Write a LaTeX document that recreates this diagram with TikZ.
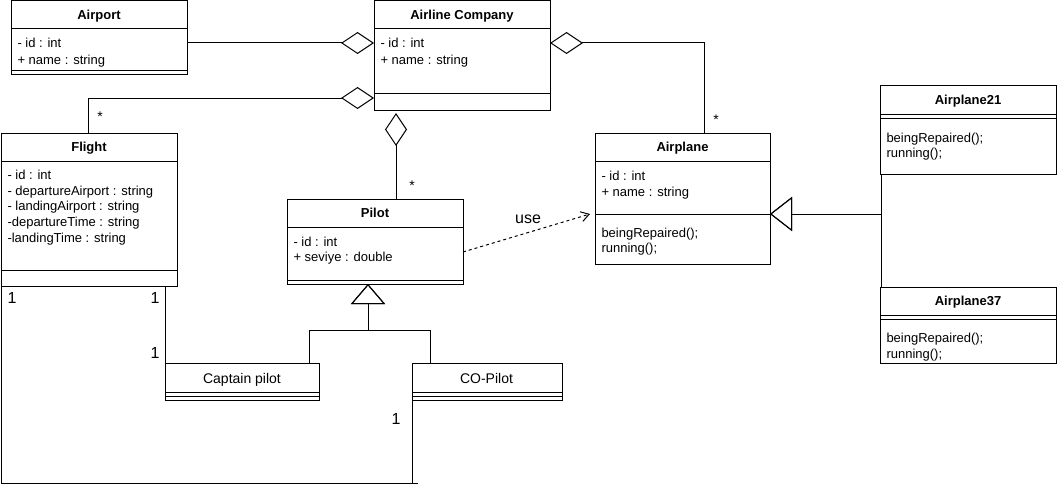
\documentclass[tikz,border=0pt]{standalone}
\usepackage{fontspec}
\setmainfont{Liberation Sans}
\usetikzlibrary{arrows.meta}
\begin{document}
\begin{tikzpicture}[x=1pt,y=-1pt,line width=1pt,
  cls/.style={draw, inner sep=0pt, outer sep=0pt, anchor=north west, fill=white},
  ttl/.style={font=\fontsize{13}{15}\selectfont\bfseries, inner sep=0pt, text height=9.3pt, text depth=0pt},
  ttlplain/.style={font=\fontsize{14}{16}\selectfont, inner sep=0pt, text height=10pt, text depth=0pt},
  mem/.style={font=\fontsize{13}{15}\selectfont, inner sep=0pt, anchor=west, text height=9.3pt, text depth=0pt},
  mult/.style={font=\fontsize{16}{18}\selectfont, inner sep=0pt},
  star/.style={font=\fontsize{14}{16}\selectfont, inner sep=0pt},
  agg/.style={-{Diamond[open, length=33pt, width=22pt]}},
  gen/.style={-{Triangle[open, length=20pt, width=34pt]}},
  gentwo/.style={-{Triangle[open, length=22pt, width=34pt]}},
  dep/.style={dash pattern=on 3pt off 3pt, -{Straight Barb[length=8pt, width=10pt]}}]
\useasboundingbox (0,0) rectangle (1058,487);

% Airport
\node[cls, minimum width=176pt, minimum height=74pt] (airport) at (11,1) {};
\draw ([yshift=-28pt]airport.north west) -- ([yshift=-28pt]airport.north east);
\draw ([yshift=-70pt]airport.north west) -- ([yshift=-70pt]airport.north east);
\node[ttl] (airportT) at (99,15) {Airport};
\node[mem] (airportA1) at (17,43) {- id : int};
\node[mem] (airportA2) at (17,60) {+ name : string};

% Airline Company
\node[cls, minimum width=176pt, minimum height=109pt] (airline) at (374,1) {};
\draw ([yshift=-28pt]airline.north west) -- ([yshift=-28pt]airline.north east);
\draw ([yshift=-93pt]airline.north west) -- ([yshift=-93pt]airline.north east);
\node[ttl] (airlineT) at (462,15) {Airline Company};
\node[mem] (airlineA1) at (380,43) {- id : int};
\node[mem] (airlineA2) at (380,60) {+ name : string};

% Flight
\node[cls, minimum width=176pt, minimum height=153pt] (flight) at (1,133) {};
\draw ([yshift=-28pt]flight.north west) -- ([yshift=-28pt]flight.north east);
\draw ([yshift=-137pt]flight.north west) -- ([yshift=-137pt]flight.north east);
\node[ttl] (flightT) at (89,147) {Flight};
\node[mem] (flightA1) at (7,175) {- id : int};
\node[mem] (flightA2) at (7,190.6) {- departureAirport : string};
\node[mem] (flightA3) at (7,206.2) {- landingAirport : string};
\node[mem] (flightA4) at (7,221.8) {-departureTime : string};
\node[mem] (flightA5) at (7,237.4) {-landingTime : string};

% Pilot
\node[cls, minimum width=176pt, minimum height=85pt] (pilot) at (287,199) {};
\draw ([yshift=-28pt]pilot.north west) -- ([yshift=-28pt]pilot.north east);
\draw ([yshift=-81pt]pilot.north west) -- ([yshift=-81pt]pilot.north east);
\node[ttl] (pilotT) at (375,213) {Pilot};
\node[mem] (pilotA1) at (293,242) {- id : int};
\node[mem] (pilotA2) at (293,257) {+ seviye : double};

% Airplane
\node[cls, minimum width=175pt, minimum height=131pt] (airplane) at (595,133) {};
\draw ([yshift=-28pt]airplane.north west) -- ([yshift=-28pt]airplane.north east);
\draw ([yshift=-81pt]airplane.north west) -- ([yshift=-81pt]airplane.north east);
\node[ttl] (airplaneT) at (682.5,147) {Airplane};
\node[mem] (airplaneA1) at (601,176) {- id : int};
\node[mem] (airplaneA2) at (601,192) {+ name : string};
\node[mem] (airplaneM1) at (601,233) {beingRepaired();};
\node[mem] (airplaneM2) at (601,248) {running();};

% Airplane21
\node[cls, minimum width=176pt, minimum height=88pt] (atwentyone) at (880,86) {};
\draw ([yshift=-28pt]atwentyone.north west) -- ([yshift=-28pt]atwentyone.north east);
\draw ([yshift=-32pt]atwentyone.north west) -- ([yshift=-32pt]atwentyone.north east);
\node[ttl] (atwentyoneT) at (968,100) {Airplane21};
\node[mem] (atwentyoneM1) at (886,138) {beingRepaired();};
\node[mem] (atwentyoneM2) at (886,153) {running();};

% Airplane37
\node[cls, minimum width=176pt, minimum height=76pt] (athirtyseven) at (880,287) {};
\draw ([yshift=-28pt]athirtyseven.north west) -- ([yshift=-28pt]athirtyseven.north east);
\draw ([yshift=-32pt]athirtyseven.north west) -- ([yshift=-32pt]athirtyseven.north east);
\node[ttl] (athirtysevenT) at (968,301) {Airplane37};
\node[mem] (athirtysevenM1) at (886,338) {beingRepaired();};
\node[mem] (athirtysevenM2) at (886,354) {running();};

% Captain pilot
\node[cls, minimum width=154pt, minimum height=37pt] (captain) at (165,363) {};
\draw ([yshift=-29pt]captain.north west) -- ([yshift=-29pt]captain.north east);
\draw ([yshift=-33pt]captain.north west) -- ([yshift=-33pt]captain.north east);
\node[ttlplain] (captainT) at (242,378) {Captain pilot};

% CO-Pilot
\node[cls, minimum width=150pt, minimum height=37pt] (copilot) at (412,363) {};
\draw ([yshift=-29pt]copilot.north west) -- ([yshift=-29pt]copilot.north east);
\draw ([yshift=-33pt]copilot.north west) -- ([yshift=-33pt]copilot.north east);
\node[ttlplain] (copilotT) at (486.5,378) {CO-Pilot};

% Aggregations
\draw[agg] ([yshift=-42pt]airport.north east) -- ([yshift=-42pt]airline.north west);
\draw[agg] ([xshift=87pt]flight.north west) |- ([yshift=-97pt]airline.north west);
\node[star] (starF) at (100,117) {*};
\draw[agg] ([xshift=109pt]pilot.north west) -- ([xshift=22pt,yshift=-3pt]airline.south west);
\node[star] (starP) at (412,186) {*};
\draw[agg] ([xshift=109pt]airplane.north west) |- ([yshift=-42pt]airline.north east);
\node[star] (starA) at (716,120) {*};

% Dependency
\draw[dep] ([yshift=-53pt]pilot.north east) -- ([xshift=-5pt,yshift=-81pt]airplane.north west);
\node[mult] (use) at (528,219) {use};

% Generalizations
\coordinate (pj) at (368,330);
\draw[gen] ([xshift=144pt]captain.north west) |- (pj) -- ([xshift=81pt]pilot.south west);
\draw[gen] ([xshift=18pt]copilot.north west) |- (pj) -- ([xshift=81pt]pilot.south west);
\coordinate (aj) at (881,214);
\draw[gentwo] ([xshift=1pt]atwentyone.south west) -- (aj) -- ([yshift=-81pt]airplane.north east);
\draw[gentwo] ([xshift=1pt]athirtyseven.north west) -- (aj) -- ([yshift=-81pt]airplane.north east);

% Associations
\draw ([xshift=164pt]flight.south west) -- (captain.north west);
\node[mult] (oneA) at (12,298) {1};
\node[mult] (oneB) at (155,298) {1};
\node[mult] (oneC) at (155,353) {1};
\coordinate (fc) at (418,483);
\draw (flight.south west) |- (fc);
\draw (copilot.south west) -- (copilot.south west |- fc);
\node[mult] (oneD) at (396,419) {1};
\end{tikzpicture}
\end{document}
